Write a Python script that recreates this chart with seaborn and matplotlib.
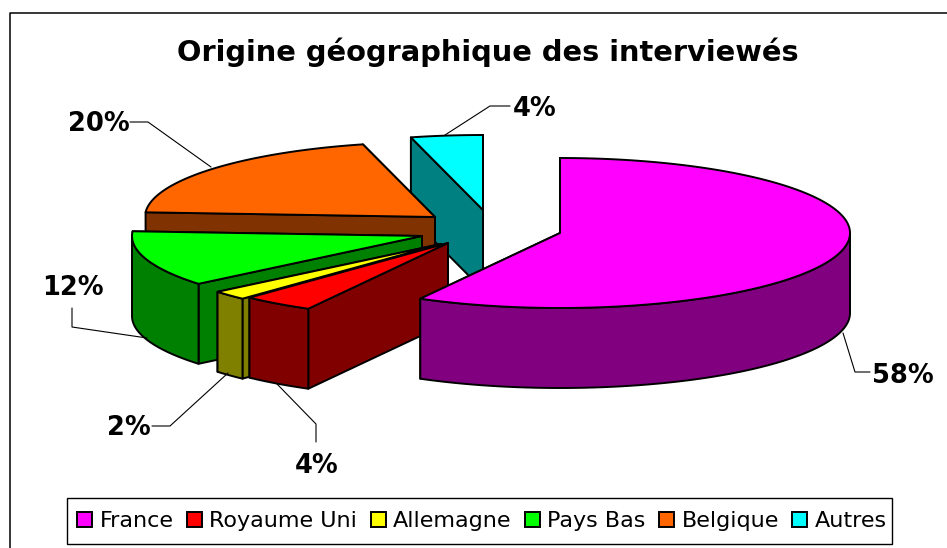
import numpy as np
import seaborn as sns
import matplotlib
matplotlib.use("Agg")
import matplotlib.pyplot as plt
from matplotlib.patches import Patch, Polygon, Rectangle

# === data ===
categories = ["France", "Royaume Uni", "Allemagne", "Pays Bas", "Belgique", "Autres"]
shares = [58, 4, 2, 12, 20, 4]
pct_labels = ["58%", "4%", "2%", "12%", "20%", "4%"]
top_colors = ["#FF00FF", "#FF0000", "#FFFF00", "#00FF00", "#FF6600", "#00FFFF"]
side_colors = ["#800080", "#800000", "#808000", "#008000", "#803300", "#008080"]

# === layout, in pixels of the 947x548 picture ===
apex = [(560, 233), (448, 243), (441, 244), (422, 236), (435, 217), (483, 210)]
rx, ry, depth = 290, 75, 80
label_pos = [(903, 376), (317, 466), (129, 428), (73, 288), (99, 124), (535, 109)]
leaders = [
    [(843, 333), (855, 372), (870, 372)],
    [(316, 442), (316, 424), (277, 384)],
    [(152, 426), (170, 426), (228, 373)],
    [(72, 308), (72, 327), (147, 338)],
    [(130, 122), (148, 122), (211, 167)],
    [(510, 106), (490, 106), (445, 135)],
]

sns.set_theme(style="white")
plt.rcParams["font.family"] = ["DejaVu Sans"]

fig = plt.figure(figsize=(9.47, 5.48), dpi=100)
ax = fig.add_axes([0, 0, 1, 1])
ax.set_xlim(0, 947)
ax.set_ylim(548, 0)
ax.axis("off")

LW = 1.4


def rim_point(c, deg):
    a = np.radians(deg)
    return c[0] + rx * np.sin(a), c[1] - ry * np.cos(a)


def arc(c, d0, d1):
    degs = np.linspace(d0, d1, max(int(abs(d1 - d0) * 2), 2))
    return [rim_point(c, d) for d in degs]


def poly(pts, color, z):
    ax.add_patch(Polygon(pts, closed=True, facecolor=color, edgecolor="black",
                         linewidth=LW, joinstyle="round", zorder=z))


# angles run clockwise from 12 o'clock
edges = np.cumsum([0] + shares) / sum(shares) * 360
# painter's order: back slice first, France last
order = [5, 4, 3, 2, 1, 0]
for z, i in enumerate(order):
    c = apex[i]
    d0, d1 = edges[i], edges[i + 1]
    base = z * 10

    # flat walls, the one pointing further back goes first
    for d in sorted([d0, d1], key=lambda v: -np.cos(np.radians(v))):
        x, y = rim_point(c, d)
        poly([c, (x, y), (x, y + depth), (c[0], c[1] + depth)], side_colors[i], base + 1)

    # curved wall, only the front half of the rim can be seen
    lo, hi = max(d0, 90), min(d1, 270)
    if hi > lo:
        upper = arc(c, lo, hi)
        lower = [(x, y + depth) for x, y in upper[::-1]]
        poly(upper + lower, side_colors[i], base + 2)

    # top face
    poly([c] + arc(c, d0, d1), top_colors[i], base + 3)

# leader lines and percent labels
for pts, pos, txt in zip(leaders, label_pos, pct_labels):
    xs, ys = zip(*pts)
    ax.plot(xs, ys, color="black", lw=0.8, zorder=100)
    ax.text(pos[0], pos[1], txt, ha="center", va="center", fontsize=18.5,
            fontweight="bold", color="black", zorder=101)

ax.text(487.5, 52, "Origine géographique des interviewés", ha="center", va="center",
        fontsize=20.8, fontweight="bold", color="black")

# outer frame: only left and top show in the picture
ax.plot([9.5, 9.5, 947], [548, 12.5, 12.5], color="black", lw=1.1, clip_on=False)

# legend box is drawn apart, its right padding is smaller than the left one
ax.add_patch(Rectangle((67, 498), 825, 46, facecolor="white", edgecolor="black",
                       linewidth=1.0, zorder=150))
handles = [Patch(facecolor=col, edgecolor="black", linewidth=1.4) for col in top_colors]
leg = ax.legend(handles, categories, ncol=6, loc="center",
                bbox_to_anchor=(482 / 947, 1 - 521 / 548),
                fontsize=16, labelcolor="black", frameon=False,
                handlelength=0.68, handleheight=0.68,
                handletextpad=0.32, columnspacing=0.61, borderpad=0,
                borderaxespad=0)
leg.set_zorder(200)

fig.savefig("out.png", dpi=100)
